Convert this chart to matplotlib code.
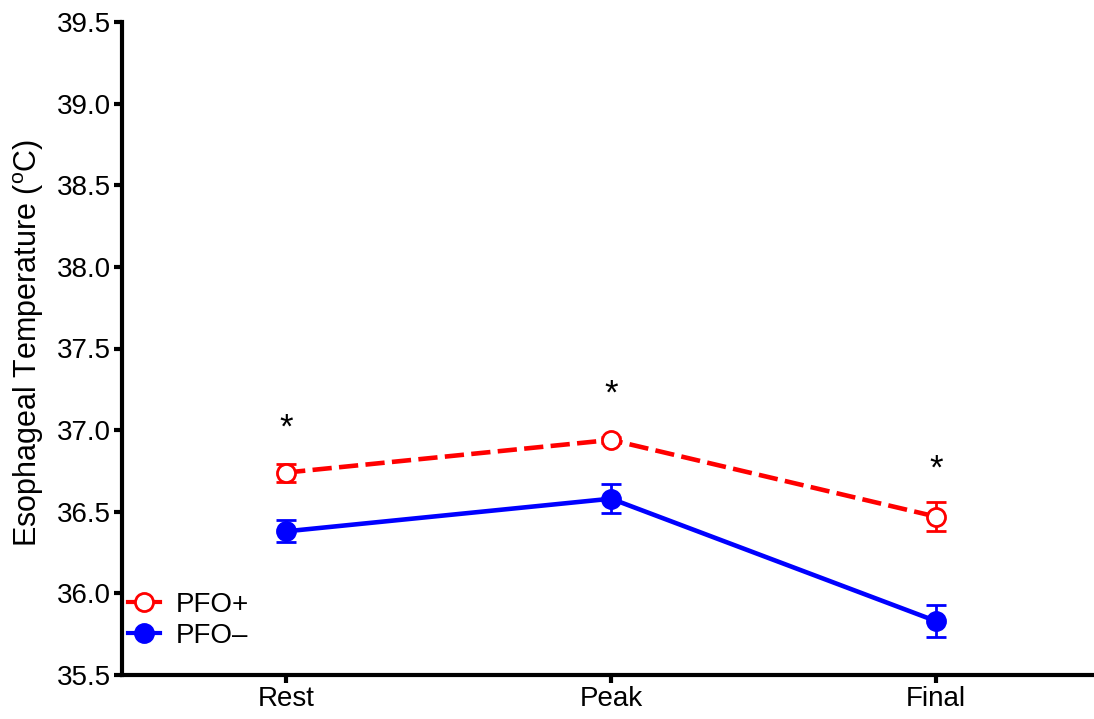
import matplotlib
matplotlib.use("Agg")
import matplotlib.pyplot as plt
from matplotlib.lines import Line2D

plt.rcParams['font.family'] = ['Liberation Sans', 'DejaVu Sans']
plt.rcParams['mathtext.fontset'] = 'custom'
plt.rcParams['mathtext.rm'] = 'Liberation Sans'

categories = ["Rest", "Peak", "Final"]
pfo_pos = [36.74, 36.94, 36.47]
pfo_pos_err = [0.055, 0.02, 0.087]
pfo_neg = [36.38, 36.58, 35.83]
pfo_neg_err = [0.067, 0.09, 0.099]
star_y = [37.01, 37.22, 36.76]
yticks = [35.5, 36.0, 36.5, 37.0, 37.5, 38.0, 38.5, 39.0, 39.5]

RED = '#ff0000'
BLUE = '#0000ff'

fig = plt.figure(figsize=(10.94, 7.19), dpi=100)
ax = fig.add_axes([122/1094, 44/719, 1 - 122/1094, (675-22)/719])

x = list(range(len(categories)))

ax.errorbar(x, pfo_pos, yerr=pfo_pos_err, color=RED, linestyle=(0, (4.2, 1.6)),
            linewidth=3.3, marker='o', markersize=13, markerfacecolor='white',
            markeredgecolor=RED, markeredgewidth=2, ecolor=RED,
            elinewidth=2, capsize=7.5, capthick=2, zorder=3)
ax.errorbar(x, pfo_neg, yerr=pfo_neg_err, color=BLUE, linestyle='-',
            linewidth=3.3, marker='o', markersize=13, markerfacecolor=BLUE,
            markeredgecolor=BLUE, markeredgewidth=2, ecolor=BLUE,
            elinewidth=2, capsize=7.5, capthick=2, zorder=3)

for xi, sy in zip(x, star_y):
    ax.text(xi, sy, '*', ha='center', va='center', fontsize=25, color='black')

ax.set_xlim(-0.505, 2.486)
ax.set_ylim(35.5, 39.5)
ax.set_yticks(yticks)
ax.set_yticklabels([f"{v:.1f}" for v in yticks])
ax.set_xticks(x)
ax.set_xticklabels(categories)

for s in ['top', 'right']:
    ax.spines[s].set_visible(False)
for s in ['left', 'bottom']:
    ax.spines[s].set_linewidth(3)
ax.tick_params(axis='both', width=3, length=6, labelsize=20, pad=2, color='black')

ax.set_ylabel('Esophageal Temperature ($^{\\mathrm{o}}$C)', fontsize=22)
ax.yaxis.set_label_coords(-0.078, 0.509)

handles = [
    Line2D([], [], color=RED, linewidth=3, marker='o', markersize=13,
           markerfacecolor='white', markeredgecolor=RED, markeredgewidth=2),
    Line2D([], [], color=BLUE, linewidth=3, marker='o', markersize=13,
           markerfacecolor=BLUE, markeredgecolor=BLUE, markeredgewidth=2),
]
leg = ax.legend(handles, ['PFO+', 'PFO\u2013'], loc='upper left',
                bbox_to_anchor=(0.0, 0.136), frameon=False,
                fontsize=20, handlelength=1.15, handletextpad=0.6, labelspacing=0.18,
                borderaxespad=0.0, borderpad=0.2)

fig.savefig('out.png', dpi=100)
